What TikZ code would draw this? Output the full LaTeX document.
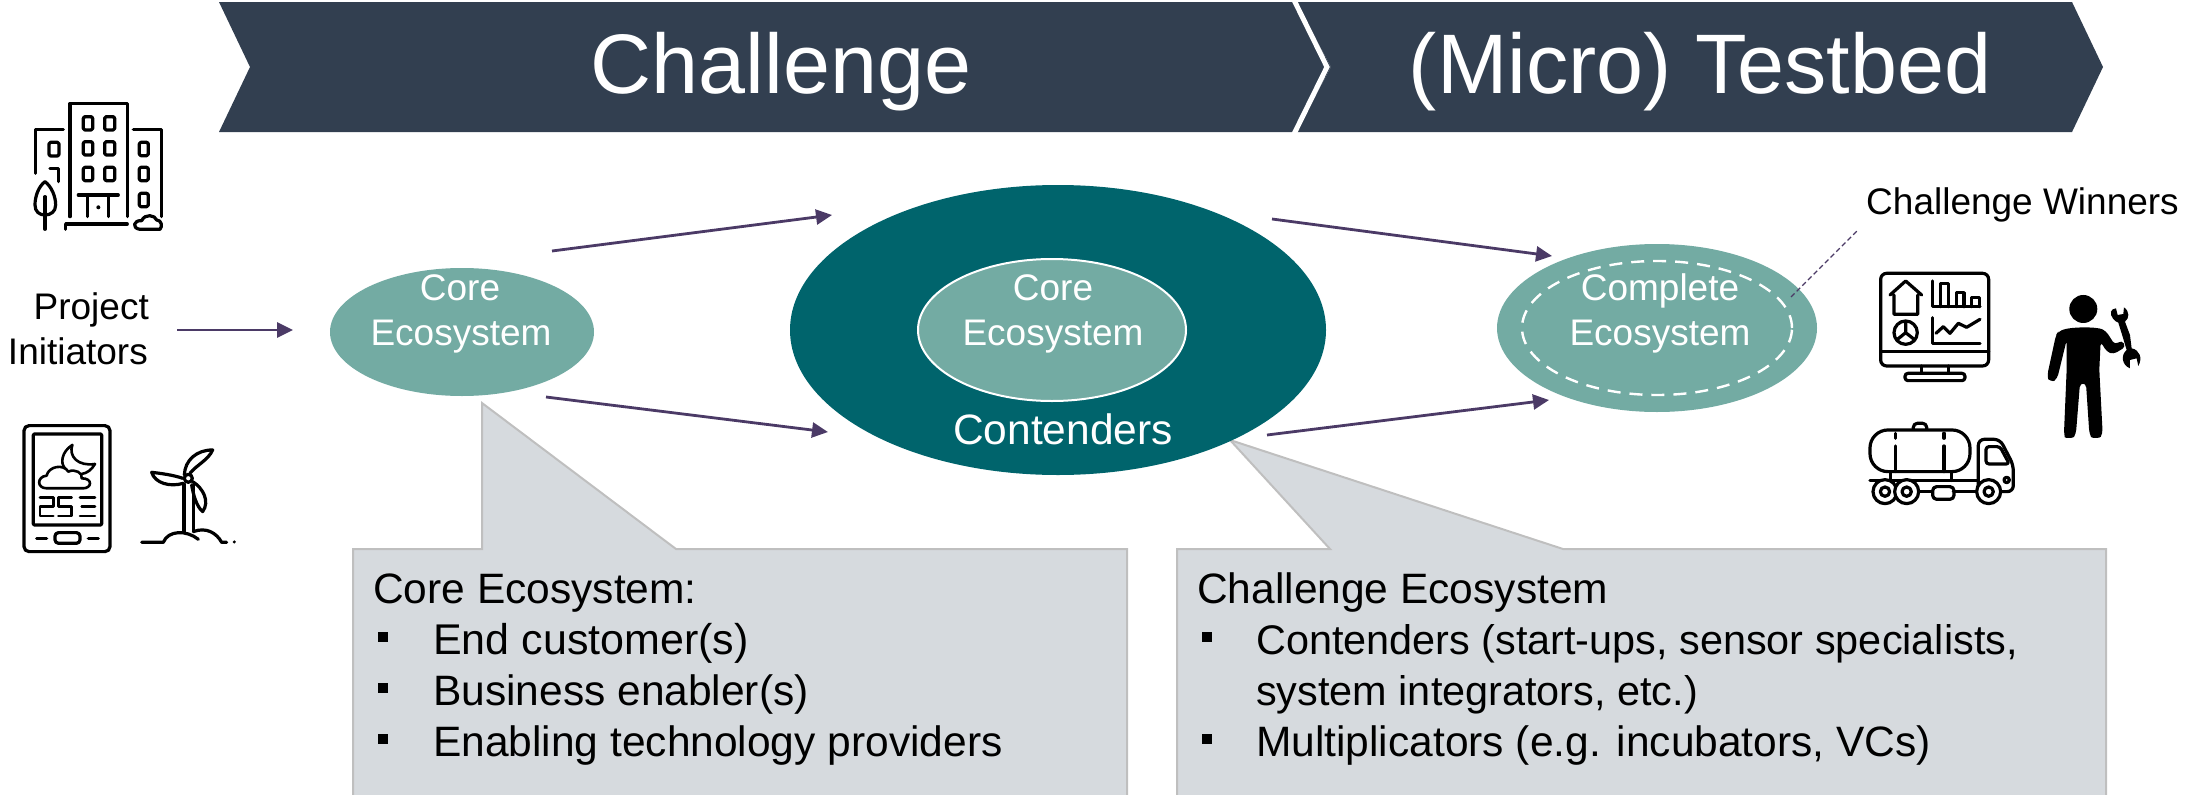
\documentclass[tikz,border=0pt]{standalone}
\usepackage{fontspec}
\setmainfont{Liberation Sans}
\usetikzlibrary{shapes.geometric,arrows.meta}
\definecolor{navy}{HTML}{323F50}
\definecolor{teal1}{HTML}{73ABA3}
\definecolor{teal2}{HTML}{00646C}
\definecolor{plum}{HTML}{4B3A66}
\definecolor{boxfill}{HTML}{D6DADE}
\definecolor{boxline}{HTML}{BFBFBF}
\tikzset{
 ban/.style={fill=navy,draw=none},
 bantext/.style={text=white,inner sep=0,font=\fontsize{84.5}{90}\selectfont,anchor=base},
 eco/.style={ellipse,inner sep=0,fill=teal1,draw=none},
 wtext/.style={text=white,inner sep=0,font=\fontsize{37}{40}\selectfont,anchor=base},
 btext/.style={text=black,inner sep=0,font=\fontsize{37}{40}\selectfont},
 ltext/.style={text=black,inner sep=0,font=\fontsize{42.5}{46}\selectfont,anchor=base west},
 ltextb/.style={ltext,font=\fontsize{41.4}{46}\selectfont},
 bull/.style={fill=black,inner sep=0,minimum size=10pt},
 arr/.style={plum,line width=2.8pt,-{Triangle[length=16pt,width=15pt]},shorten >=0pt},
 callout/.style={fill=boxfill,draw=boxline,line width=2pt,line join=miter},
 ic/.style={black,line width=3.2pt,line cap=round,line join=round},
 icthin/.style={black,line width=2.6pt,line cap=round,line join=round},
 zoomA/.style={shift={(0,80)},x=0.3333pt,y=-0.3333pt},
 zoomB/.style={shift={(1750,170)},x=0.3333pt,y=-0.3333pt},
}
\begin{document}
\begin{tikzpicture}[x=1pt,y=-1pt]
\useasboundingbox (0,0) rectangle (2185,795);
% banner
\path[ban] (219,2)--(1296,2)--(1331,67)--(1296,132)--(219,132)--(250,67)--cycle;
\path[ban] (1296,2)--(2072,2)--(2103,67)--(2072,132)--(1296,132)--(1331,67)--cycle;
\draw[white,line width=5pt,line join=miter] (1293,-2)--(1327,67)--(1293,136);
\node[bantext] (chal) at (781,93) {Challenge};
\node[bantext] (micro) at (1700,93) {(Micro) Testbed};
% callouts
\draw[callout] (353,795)--(353,549)--(482,549)--(482,403)--(676,549)--(1127,549)--(1127,795);
\draw[callout] (1177,795)--(1177,549)--(1330,549)--(1230,440)--(1563,549)--(2106,549)--(2106,795);
% ellipses
\node[eco,minimum width=264pt,minimum height=128pt] (core) at (462,332) {};
\node[eco,fill=teal2,minimum width=536pt,minimum height=290pt] (cont) at (1058,330) {};
\node[eco,draw=white,line width=2pt,minimum width=268pt,minimum height=142pt] (corein) at (1052,330) {};
\node[eco,minimum width=320pt,minimum height=168pt] (comp) at (1657,328) {};
\node[ellipse,inner sep=0,draw=white,line width=2.4pt,dash pattern=on 13pt off 9pt,minimum width=270pt,minimum height=134pt] (compin) at (1657,328) {};
% ellipse texts
\node[wtext] (t1) at (460,300) {Core};
\node[wtext] (t2) at (461,345) {Ecosystem};
\node[wtext] (t3) at (1053,300) {Core};
\node[wtext] (t4) at (1053,345) {Ecosystem};
\node[wtext,font=\fontsize{42.5}{46}\selectfont] (t5) at (1063,444) {Contenders};
\node[wtext] (t6) at (1660,300) {Complete};
\node[wtext] (t7) at (1660,345) {Ecosystem};
% labels
\node[btext,anchor=base east] (pi1) at (149,319) {Project};
\node[btext,anchor=base east] (pi2) at (148,364) {Initiators};
\node[btext,anchor=base west] (cw) at (1866,214) {Challenge Winners};
% callout text
\node[ltext] (a0) at (373,603) {Core Ecosystem:};
\node[bull] (ab1) at (383,637) {};
\node[ltext,font=\fontsize{43}{46}\selectfont] (a1) at (433,654) {End customer(s)};
\node[bull] (ab2) at (383,688) {};
\node[ltext] (a2) at (433,705) {Business enabler(s)};
\node[bull] (ab3) at (383,739) {};
\node[ltext] (a3) at (433,756) {Enabling technology providers};
\node[ltext] (b0) at (1197,603) {Challenge Ecosystem};
\node[bull] (bb1) at (1207,637) {};
\node[ltextb] (b1) at (1256,654) {Contenders (start-ups, sensor specialists,};
\node[ltextb] (b2) at (1256,705) {system integrators, etc.)};
\node[bull] (bb2) at (1207,739) {};
\node[ltext] (b3) at (1256,756) {Multiplicators (e.g. incubators, VCs)};
% connectors
\coordinate (p0) at (177,330); \coordinate (p1) at (293,330);
\coordinate (q0) at (552,251); \coordinate (q1) at (832,215);
\coordinate (r0) at (546,397); \coordinate (r1) at (828,432);
\coordinate (s0) at (1272,219); \coordinate (s1) at (1552,256);
\coordinate (u0) at (1267,435); \coordinate (u1) at (1549,400);
\coordinate (w0) at (1791,297); \coordinate (w1) at (1857,231);
\draw[arr] (p0)--(p1);
\draw[arr] (q0)--(q1);
\draw[arr] (r0)--(r1);
\draw[arr] (s0)--(s1);
\draw[arr] (u0)--(u1);
\draw[plum,line width=1.2pt,dash pattern=on 5pt off 3pt] (w0)--(w1);
% building
\begin{scope}[zoomA,ic]
\draw (210,410)--(210,70)--(382,70)--(382,410);
\foreach \yy in {110,185,262}{
 \draw[rounded corners=1.5pt] (250,\yy) rectangle (278,\yy+40);
 \draw[rounded corners=1.5pt] (314,\yy) rectangle (344,\yy+40);}
\draw (235,345)--(355,345) (262,345)--(262,410) (325,345)--(325,410);
\fill (295,382) circle (6);
\draw (197,448)--(197,432)--(382,432);
\draw (107,280)--(107,148)--(190,148);
\draw[rounded corners=1.5pt] (147,187) rectangle (177,228);
\draw (150,265)--(175,265)--(175,305);
\draw (400,148)--(485,148)--(485,410);
\foreach \yy in {187,262,340}{\draw[rounded corners=1.5pt] (418,\yy) rectangle (445,\yy+40);}
\draw (135,305) .. controls (115,320) and (105,350) .. (105,375) .. controls (105,395) and (118,405) .. (135,405) .. controls (152,405) and (167,395) .. (167,375) .. controls (167,350) and (155,320) .. (135,305) --cycle;
\draw (135,350)--(135,448);
\draw (420,448) .. controls (395,445) and (400,420) .. (425,422) .. controls (435,400) and (465,405) .. (470,420) .. controls (485,420) and (488,440) .. (480,448) --cycle;
\end{scope}
% weather station
\begin{scope}[zoomA,ic]
\draw[rounded corners=5pt] (72,1037) rectangle (330,1415);
\draw[rounded corners=1pt] (100,1062) rectangle (305,1335);
\draw[rounded corners=3.5pt] (165,1358) rectangle (240,1390);
\draw (110,1375)--(140,1375) (265,1375)--(295,1375);
\draw[icthin] (120,1252)--(160,1252)--(160,1280)--(120,1280)--(120,1308)--(160,1308);
\draw[icthin] (215,1252)--(175,1252)--(175,1280)--(215,1280)--(215,1308)--(175,1308);
\draw[icthin] (240,1252)--(285,1252) (245,1280)--(285,1280) (240,1308)--(285,1308);
\draw[icthin] (140,1225) .. controls (110,1225) and (110,1190) .. (140,1187) .. controls (145,1160) and (190,1150) .. (205,1175) .. controls (225,1165) and (250,1180) .. (245,1195) .. controls (280,1195) and (275,1225) .. (250,1225) --cycle;
\draw[icthin] (217,1095) .. controls (185,1115) and (180,1150) .. (195,1165);
\draw[icthin] (217,1095) .. controls (205,1130) and (235,1160) .. (285,1152) .. controls (275,1170) and (260,1180) .. (245,1182);
\end{scope}
% turbine
\begin{scope}[zoomA,ic]
\draw (552,1212)--(552,1355) (580,1215)--(580,1355);
\draw (565,1195) circle (12);
\draw (553,1185) .. controls (555,1140) and (590,1110) .. (638,1110) .. controls (625,1140) and (590,1155) .. (570,1180);
\draw (548,1195) .. controls (520,1185) and (480,1180) .. (455,1177) .. controls (465,1210) and (510,1222) .. (550,1210);
\draw (578,1205) .. controls (610,1225) and (630,1265) .. (608,1295) .. controls (590,1280) and (580,1245) .. (575,1215);
\draw (425,1387)--(490,1387) .. controls (505,1350) and (560,1350) .. (595,1378);
\draw (580,1355) .. controls (620,1340) and (650,1360) .. (665,1387)--(680,1387);
\fill (703,1386) circle (5);
\end{scope}
% monitor
\begin{scope}[zoomB,ic]
\draw[rounded corners=6pt] (392,310) rectangle (716,588);
\draw (392,545)--(716,545);
\draw (515,588)--(515,610) (595,588)--(595,610);
\draw[rounded corners=3pt] (465,610) rectangle (645,632);
\draw (420,375)--(467,333)--(515,375) (432,375)--(432,433)--(503,433)--(503,375);
\draw (467,488) circle (35);
\draw (467,488)--(467,455) (467,488)--(440,510) (467,488)--(495,510);
\draw (548,333)--(548,410)--(690,410);
\draw (572,410)--(572,340)--(595,340)--(595,410);
\draw (620,410)--(620,368)--(642,368)--(642,410);
\draw (665,410)--(665,382)--(688,382)--(688,410);
\draw (548,443)--(548,520)--(690,520);
\draw (558,490)--(580,470)--(600,490)--(625,460)--(650,472)--(690,448);
\end{scope}
% truck
\begin{scope}[zoomB,ic]
\draw[rounded corners=18pt] (360,780) rectangle (660,905);
\draw[rounded corners=4pt] (490,778)--(490,760)--(530,760)--(530,778);
\draw (437,790)--(437,805) (437,828)--(437,905) (582,790)--(582,805) (582,828)--(582,905);
\draw (422,905)--(422,932) (605,905)--(605,932);
\draw (360,932)--(685,932);
\draw[rounded corners=6pt] (685,965)--(685,808)--(750,808)--(790,885)--(790,965)--(745,965);
\draw[rounded corners=3pt] (708,830)--(750,830)--(778,882)--(708,882)--cycle;
\draw (770,930) circle (8);
\draw (435,965)--(440,965) (500,965)--(545,965) (610,965)--(690,965);
\foreach \xx in {405,470,716}{\draw[fill=white] (\xx,965) circle (36); \draw (\xx,965) circle (14);}
\draw[rounded corners=4pt] (548,950) rectangle (612,988);
\end{scope}
% person
\begin{scope}[zoomB]
\fill[black] (1000,417) circle (42);
\fill[black,rounded corners=4pt] (925,485) .. controls (960,470) and (1040,470) .. (1068,483) -- (1095,525) -- (1115,510) -- (1128,530) -- (1090,553) -- (1070,545) -- (1052,515) -- (1048,600) -- (1058,790) .. controls (1050,805) and (1025,805) .. (1018,790) -- (1008,640) -- (990,640) -- (978,790) .. controls (970,805) and (945,805) .. (942,790) -- (950,600) -- (950,510) -- (922,625) .. controls (910,635) and (895,630) .. (892,615) -- (918,495) --cycle;
\fill[black] (1083,425) .. controls (1080,440) and (1095,455) .. (1105,458) -- (1118,500) -- (1130,540) .. controls (1112,555) and (1115,585) .. (1140,595) -- (1140,570) -- (1160,565) -- (1165,588) .. controls (1178,565) and (1170,540) .. (1145,535) -- (1140,495) -- (1125,455) .. controls (1138,445) and (1140,425) .. (1122,412) -- (1120,432) -- (1103,435) -- (1098,415) .. controls (1090,415) and (1085,420) .. (1083,425) --cycle;
\end{scope}
\end{tikzpicture}
\end{document}
